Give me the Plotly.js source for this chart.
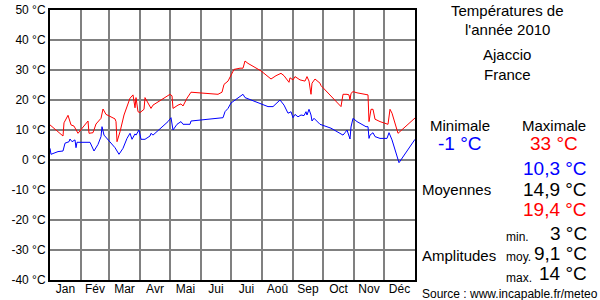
<!DOCTYPE html>
<html>
<head>
<meta charset="utf-8">
<script src="https://cdn.plot.ly/plotly-3.0.1.min.js"></script>
<style>html,body{margin:0;padding:0;background:#fff;}#chart{width:600px;height:300px;}</style>
</head>
<body>
<div id="chart"></div>
<script>
// Day of year (0 = 1 Jan) and daily maximum temperature
const maxDays = [0,13,14,18,21,24,28,38,39,43,46,51,53,56,65,66,67,70,74,80,83,85,86,88,90,94,95,101,103,120,122,123,128,131,133,137,141,155,168,172,174,178,181,182,184,190,193,195,198,211,221,226,231,234,239,240,242,243,245,250,255,257,259,261,262,265,270,271,291,293,297,299,300,301,303,307,318,319,321,323,325,330,338,340,342,348,365];
const maxTemps = [11.7,8,12.4,14.9,11.7,11.3,8.9,13,8.9,9.1,12,13.9,17,15.2,13.7,12.8,6.1,9.4,15,20.6,21.7,17.4,20.8,16.1,15.8,16.9,20.8,17.2,18.3,21.9,21.4,17.2,18.3,18.7,18,20.6,22.6,22.2,21.9,22.6,25.2,26.3,28.3,29.4,30.2,30.6,30.6,33,32.2,29.7,27,28.1,28.9,28.1,25.9,27.4,27.1,26.7,27.8,26.7,26.3,27.8,26.3,21.9,25.6,27,25.6,24.8,17.8,21.9,21.9,21.7,20,22.2,22.8,22.4,21.7,12.8,16.9,16.9,13.6,12.8,11.9,16.9,15.6,8.9,14];
// Day of year and daily minimum temperature
const minDays = [0,1,8,13,15,19,20,22,25,26,27,40,44,48,51,52,54,61,65,69,73,77,80,82,85,86,89,91,95,100,101,103,118,121,123,127,131,133,140,141,146,168,173,175,178,181,187,193,195,210,218,223,230,234,238,240,241,243,245,248,251,254,256,257,259,261,262,264,270,281,288,293,295,297,300,301,303,307,316,318,319,320,323,325,330,337,339,342,349,365];
const minTemps = [3.9,1.9,2.8,3,5.6,6.1,7,6.1,6.7,4.1,5.9,5.9,3,5.2,7.8,11.1,8.3,5.6,4.1,1.9,3.9,7.2,8.9,6.9,8.7,8.3,10,6.9,6.9,8,8.9,8.3,12.8,14.1,10,11.9,12.8,11.9,11.9,13,13.2,13.9,14.1,16.1,17.2,19,20.6,21.9,20.8,18.9,17.8,17.8,20,18.3,15.6,15.9,16.1,14.1,15.2,14.4,15,14.8,16.1,15,16.9,15,13,13.9,11.9,10.6,9.4,8.3,9.1,10,7,11,13.9,12.8,11.1,11.1,7.2,8.3,9.1,7.8,7.2,7.2,9.1,6.7,-0.9,6.9];

const monthStarts = [0,31,59,90,120,151,181,212,243,273,304,334,365];
const monthLabels = ['Jan','Fév','Mar','Avr','Mai','Jui','Jui','Aoû','Sep','Oct','Nov','Déc'];
const yTicks = [50,40,30,20,10,0,-10,-20,-30,-40];
const yTickLabels = yTicks.map(v => v + ' °C');

const titleLines = ['Températures de', "l'année 2010"];
const placeLines = ['Ajaccio', 'France'];
const extremes = ['-1 °C', '33 °C'];
const averages = ['10,3 °C', '14,9 °C', '19,4 °C'];
const amplitudes = ['3 °C', '9,1 °C', '14 °C'];
const ampLabels = ['min.', 'moy.', 'max.'];

const monthMids = monthLabels.map((_, i) => (monthStarts[i] + monthStarts[i+1]) / 2);

const FONT = 'Arial, "Liberation Sans", sans-serif';
const L = 50, R = 415, T = 10, B = 280;
const px = x => (x - L) / (R - L);
const py = y => (B - y) / (B - T);
function ann(text, x, y, size, color, xanchor) {
  return {text: text, xref: 'paper', yref: 'paper', x: px(x), y: py(y), xanchor: xanchor || 'center',
    yanchor: 'middle', showarrow: false, font: {family: FONT, size: size, color: color || '#000'}};
}

const annotations = [
  ann(titleLines[0], 507, 10, 15), ann(titleLines[1], 507, 29, 15),
  ann(placeLines[0], 507, 55, 15), ann(placeLines[1], 507, 75, 15),
  ann('Minimale', 460, 125, 15), ann('Maximale', 554, 125, 15),
  ann(extremes[0], 460, 143, 19, '#0000ff'), ann(extremes[1], 554, 143, 19, '#ff0000'),
  ann(averages[0], 589, 168, 19, '#0000ff', 'right'),
  ann('Moyennes', 420, 189, 15, '#000', 'left'),
  ann(averages[1], 589, 189, 19, '#000', 'right'),
  ann(averages[2], 589, 209, 19, '#ff0000', 'right'),
  ann(ampLabels[0], 504, 237, 12, '#000', 'left'),
  ann(amplitudes[0], 589, 233, 19, '#000', 'right'),
  ann('Amplitudes', 420, 255, 15, '#000', 'left'),
  ann(ampLabels[1], 504, 257, 12, '#000', 'left'),
  ann(amplitudes[1], 589, 253, 19, '#000', 'right'),
  ann(ampLabels[2], 504, 278, 12, '#000', 'left'),
  ann(amplitudes[2], 589, 273, 19, '#000', 'right'),
  ann('Source : www.incapable.fr/meteo', 420, 294, 12, '#000', 'left')
];

const traces = [
  {x: maxDays, y: maxTemps, type: 'scatter', mode: 'lines', line: {color: '#ff0000', width: 1}, hoverinfo: 'skip'},
  {x: minDays, y: minTemps, type: 'scatter', mode: 'lines', line: {color: '#0000ff', width: 1}, hoverinfo: 'skip'},
  {x: monthMids, y: monthMids.map(() => null), xaxis: 'x2', type: 'scatter', mode: 'lines', hoverinfo: 'skip'}
];

const layout = {
  width: 600, height: 300,
  margin: {l: L, r: 600 - R, t: T, b: 300 - B, pad: 0},
  paper_bgcolor: '#fff', plot_bgcolor: '#fff',
  showlegend: false,
  xaxis: {range: [0, 365], tickvals: monthStarts, showticklabels: false, ticks: '',
    showgrid: true, gridcolor: '#808080', gridwidth: 1.5, zeroline: false,
    showline: true, linecolor: '#000', linewidth: 2, mirror: true, fixedrange: true},
  xaxis2: {range: [0, 365], overlaying: 'x', tickvals: monthMids, ticktext: monthLabels,
    showgrid: false, zeroline: false, ticks: '', side: 'bottom', anchor: 'y',
    tickfont: {family: FONT, size: 12, color: '#000'}, fixedrange: true},
  yaxis: {range: [-40, 50], tickvals: yTicks, ticktext: yTickLabels, ticks: '',
    showgrid: true, gridcolor: '#808080', gridwidth: 1.5, zeroline: false,
    showline: true, linecolor: '#000', linewidth: 2, mirror: true,
    tickfont: {family: FONT, size: 12, color: '#000'}, fixedrange: true},
  annotations: annotations
};

Plotly.newPlot('chart', traces, layout, {displayModeBar: false, staticPlot: true});
</script>
</body>
</html>
